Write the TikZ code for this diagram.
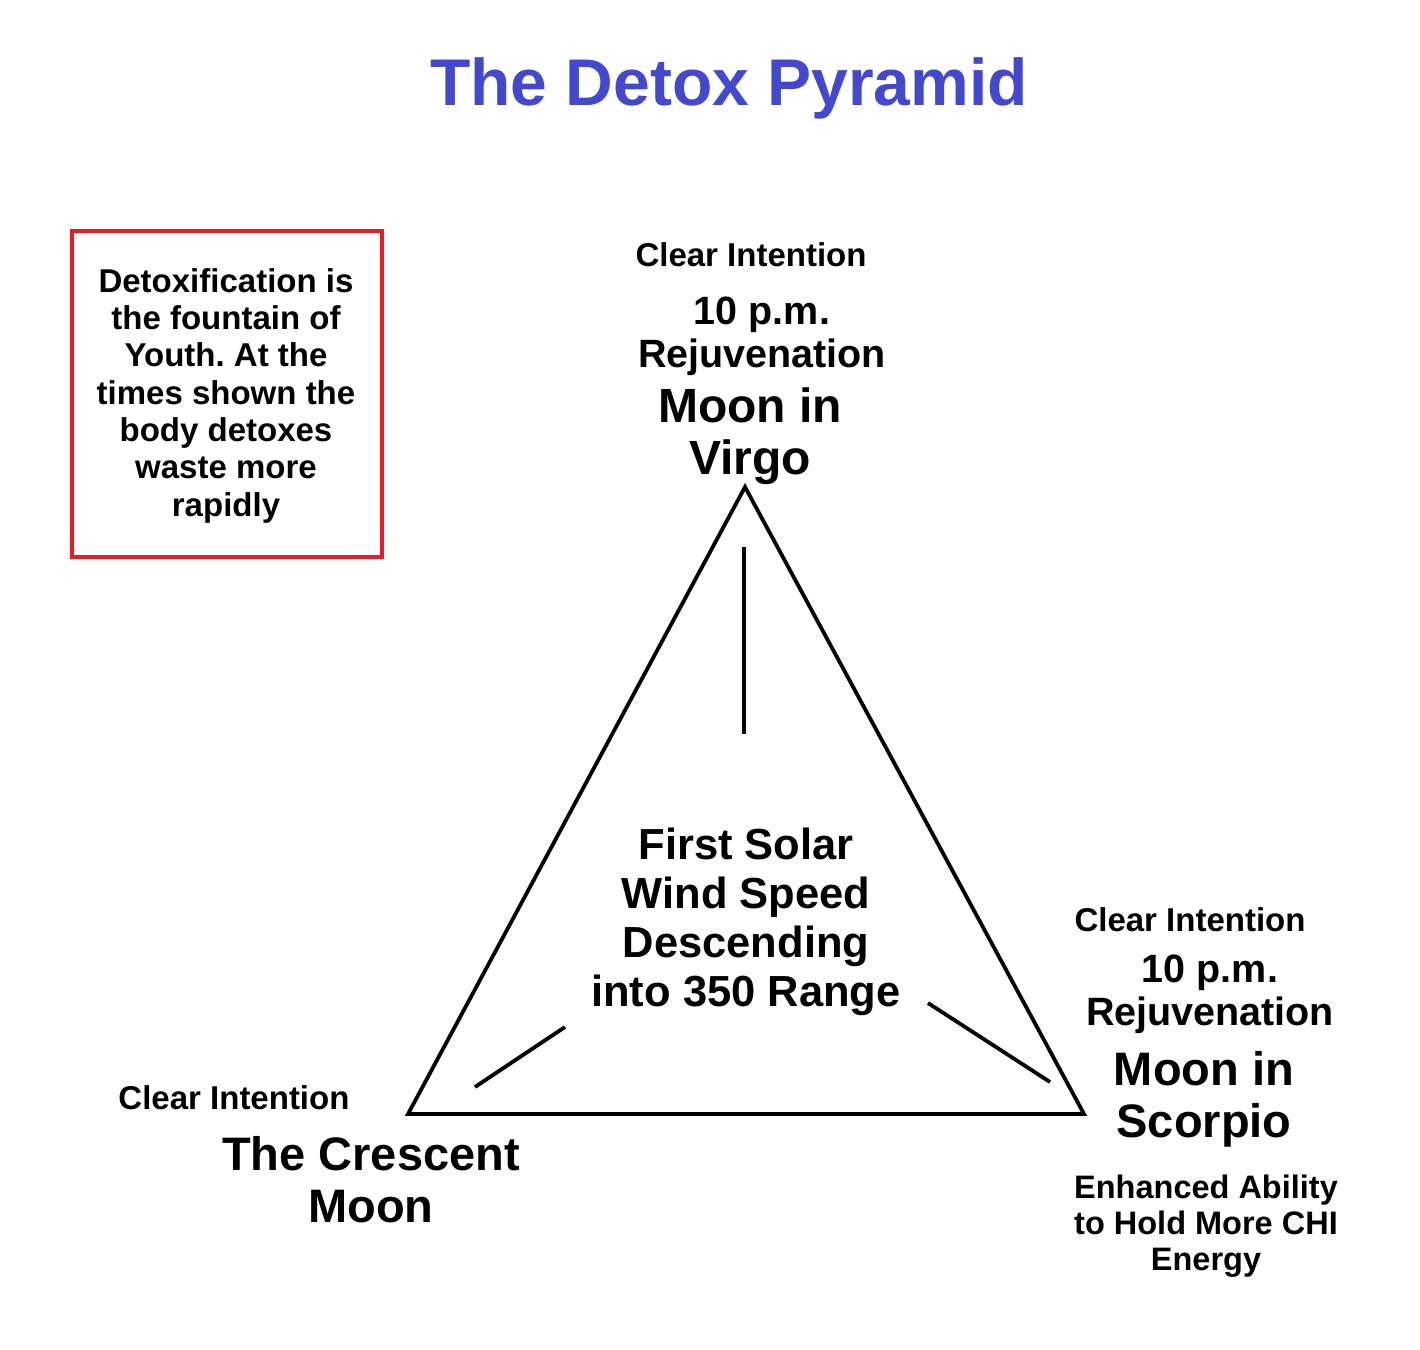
\documentclass[tikz,border=0pt]{standalone}
\usepackage{fontspec}
\setmainfont{Liberation Sans}
\definecolor{titleblue}{RGB}{67,73,207}
\definecolor{boxred}{RGB}{237,28,36}
\tikzset{
  lbl/.style={anchor=base, inner sep=0pt, font=\bfseries\fontsize{#1}{#1}\selectfont},
  edge/.style={line width=3.8pt, black},
  tick/.style={line width=3.8pt, black}
}
\frenchspacing
\begin{document}
\begin{tikzpicture}[x=1pt,y=-1pt]
\useasboundingbox[fill=white] (0,0) rectangle (1420,1349);
% title
\node[lbl=66, text=titleblue] (title) at (729,105) {The Detox Pyramid};
% red box
\node[draw=boxred, line width=4pt, minimum width=310pt, minimum height=326pt, inner sep=0pt] (box) at (227,393.5) {};
\node[lbl=33] (b1) at (226,292) {Detoxification is};
\node[lbl=33] (b2) at (226,329) {the fountain of};
\node[lbl=33] (b3) at (226,366) {Youth. At the};
\node[lbl=33] (b4) at (226,404) {times shown the};
\node[lbl=33] (b5) at (226,441) {body detoxes};
\node[lbl=33] (b6) at (226,478) {waste more};
\node[lbl=33] (b7) at (226,516) {rapidly};
% triangle
\coordinate (A) at (745,487);
\coordinate (B) at (408,1114);
\coordinate (C) at (1084,1114);
\draw[edge, line join=miter] (A) -- (B) -- (C) -- cycle;
% inner ticks
\coordinate (t1a) at (744,547); \coordinate (t1b) at (744,734);
\coordinate (t2a) at (475,1087); \coordinate (t2b) at (565,1027);
\coordinate (t3a) at (928,1003); \coordinate (t3b) at (1050,1082);
\draw[tick] (t1a) -- (t1b);
\draw[tick] (t2a) -- (t2b);
\draw[tick] (t3a) -- (t3b);
% top label
\node[lbl=33] (tc) at (751,266) {Clear Intention};
\node[lbl=39.5] (tt) at (762,324) {10 p.m.};
\node[lbl=39.5] (tr) at (762,367) {Rejuvenation};
\node[lbl=48] (tm) at (750,422) {Moon in};
\node[lbl=48] (tv) at (750,474) {Virgo};
% center
\node[lbl=43.5] (c1) at (746,859) {First Solar};
\node[lbl=43.5] (c2) at (746,908) {Wind Speed};
\node[lbl=43.5] (c3) at (746,957) {Descending};
\node[lbl=43.5] (c4) at (746,1006) {into 350 Range};
% right label
\node[lbl=33] (rc) at (1190,931) {Clear Intention};
\node[lbl=39.5] (rt) at (1210,982) {10 p.m.};
\node[lbl=39.5] (rr) at (1210,1025) {Rejuvenation};
\node[lbl=47] (rm) at (1204,1085) {Moon in};
\node[lbl=47] (rs) at (1204,1137) {Scorpio};
\node[lbl=32.5] (re1) at (1206,1198) {Enhanced Ability};
\node[lbl=32.5] (re2) at (1206,1234) {to Hold More CHI};
\node[lbl=32.5] (re3) at (1206,1270) {Energy};
% bottom-left label
\node[lbl=33] (lc) at (234,1109) {Clear Intention};
\node[lbl=47] (l1) at (371,1170) {The Crescent};
\node[lbl=47] (l2) at (371,1222) {Moon};
\end{tikzpicture}
\end{document}
